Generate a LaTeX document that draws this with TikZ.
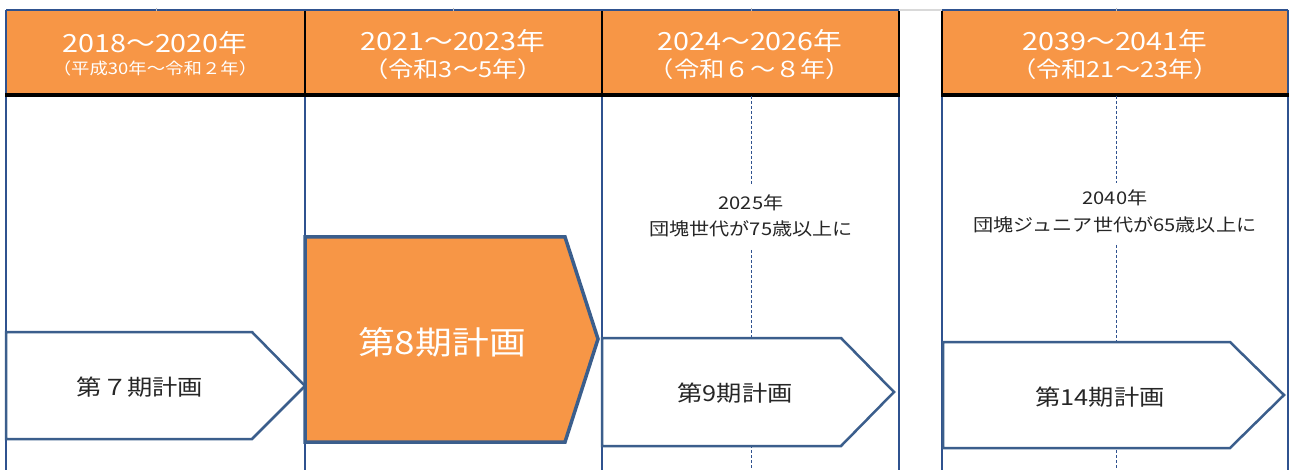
\documentclass[tikz,border=0pt]{standalone}
\usepackage{fontspec}
\setmainfont[FakeStretch=1.15]{Noto Sans CJK JP}
\definecolor{hdr}{HTML}{F79646}
\definecolor{edgeblue}{HTML}{3B5E8C}
\definecolor{vline}{HTML}{2F528F}
\tikzset{
  hdrtop/.style={text=white, font=\fontsize{25}{27}\selectfont, inner sep=0},
  hdrsub/.style={text=white, font=\fontsize{22}{24}\selectfont, inner sep=0},
  hdrsmall/.style={text=white, font=\fontsize{16}{18}\selectfont, inner sep=0},
  evtext/.style={text=black!85, font=\fontsize{17.5}{20}\selectfont, inner sep=0},
  boxtext/.style={text=black!85, font=\fontsize{22}{24}\selectfont, inner sep=0},
  bigtext/.style={text=white, font=\fontsize{32}{34}\selectfont, inner sep=0},
  planbox/.style={draw=edgeblue, line width=2.5pt, fill=white, line join=miter},
  curbox/.style={draw=edgeblue, line width=3.5pt, fill=hdr, line join=miter},
  colline/.style={draw=vline, line width=1.6pt},
  hdrdiv/.style={draw=black, line width=2pt},
  guide/.style={draw=vline, line width=0.8pt, dash pattern=on 3pt off 2pt}
}
\begin{document}
\begin{tikzpicture}[x=1pt,y=-1pt]
\useasboundingbox (0,0) rectangle (1290,470);
\fill[white] (0,0) rectangle (1290,470);
% header fills
\fill[hdr] (6,11) rectangle (899,94);
\fill[hdr] (942,11) rectangle (1288,94);
% top border
\draw[colline] (6,10) -- (899,10);
\draw[colline] (942,10) -- (1288,10);
\draw[draw=black!15, line width=1.5pt] (899,10) -- (942,10);
% body column lines
\draw[colline] (6,10) -- (6,470);
\draw[colline] (305,96) -- (305,470);
\draw[colline] (602,96) -- (602,470);
\draw[colline] (899,96) -- (899,470);
\draw[colline] (942,96) -- (942,470);
\draw[colline] (1288,10) -- (1288,470);
% header dividers
\draw[hdrdiv] (305,11) -- (305,94);
\draw[hdrdiv] (602,11) -- (602,94);
\draw[hdrdiv] (899,11) -- (899,94);
\draw[hdrdiv] (942,11) -- (942,94);
% header bottom rule
\draw[draw=black, line width=3.5pt] (5,95) -- (900,95);
\draw[draw=black, line width=3.5pt] (941,95) -- (1289,95);
% tiny top ticks
\foreach \tx in {156,453,751,1116} \draw[draw=black!25, line width=1pt] (\tx,8) -- (\tx,11);
% guide lines
\coordinate (g1a) at (751,96); \coordinate (g1b) at (751,184);
\coordinate (g1c) at (751,250); \coordinate (g1d) at (751,470);
\coordinate (g2a) at (1116,96); \coordinate (g2b) at (1116,183);
\coordinate (g2c) at (1116,245); \coordinate (g2d) at (1116,470);
\draw[guide] (g1a) -- (g1b);
\draw[guide] (g1c) -- (g1d);
\draw[guide] (g2a) -- (g2b);
\draw[guide] (g2c) -- (g2d);
% header texts
\node[hdrtop] (h1a) at (155,43) {2018～2020年};
\node[hdrsmall] (h1b) at (155,68.5) {（平成30年～令和２年）};
\node[hdrtop] (h2a) at (453,41) {2021～2023年};
\node[hdrsub] (h2b) at (453,69) {（令和3～5年）};
\node[hdrtop] (h3a) at (750,41) {2024～2026年};
\node[hdrsub] (h3b) at (750,69) {（令和６～８年）};
\node[hdrtop] (h4a) at (1115,41) {2039～2041年};
\node[hdrsub] (h4b) at (1115,69) {（令和21～23年）};
% events
\node[evtext] (e1a) at (751,203) {2025年};
\node[evtext] (e1b) at (751,229) {団塊世代が75歳以上に};
\node[evtext] (e2a) at (1115,198) {2040年};
\node[evtext] (e2b) at (1115,225) {団塊ジュニア世代が65歳以上に};
% plan arrows
\draw[planbox] (6,332) -- (252,332) -- (305,386) -- (252,439) -- (6,439) -- cycle;
\draw[planbox] (602,338) -- (841,338) -- (894,392) -- (841,446) -- (602,446) -- cycle;
\draw[planbox] (943,342) -- (1230,342) -- (1284,395) -- (1230,448) -- (943,448) -- cycle;
\draw[curbox] (305,237) -- (565,237) -- (598,339) -- (565,442) -- (305,442) -- cycle;
\node[boxtext] (p7) at (140,387) {第７期計画};
\node[bigtext] (p8) at (442,342) {第8期計画};
\node[boxtext] (p9) at (735,393) {第9期計画};
\node[boxtext] (p14) at (1100,397) {第14期計画};
\end{tikzpicture}
\end{document}
